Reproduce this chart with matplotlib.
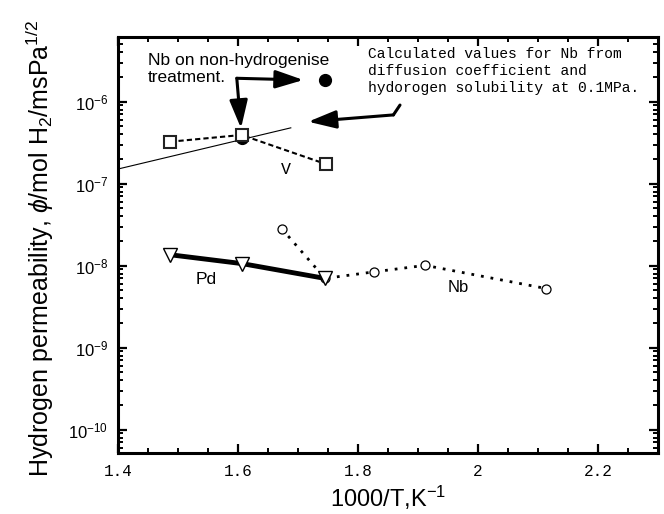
import matplotlib
matplotlib.use("Agg")
import matplotlib.pyplot as plt
from matplotlib.ticker import MultipleLocator, LogLocator, NullFormatter, FixedLocator

plt.rcParams['font.family'] = ['Liberation Sans', 'DejaVu Sans']
plt.rcParams['mathtext.fontset'] = 'custom'
plt.rcParams['mathtext.rm'] = 'Liberation Sans'
plt.rcParams['mathtext.it'] = 'Liberation Sans:italic'
plt.rcParams['mathtext.bf'] = 'Liberation Sans:bold'

# ---- data ----
v_x = [1.487, 1.606, 1.746]
v_y = [3.25e-7, 3.93e-7, 1.74e-7]

pd_x = [1.487, 1.607, 1.745]
pd_y = [1.36e-8, 1.06e-8, 7.0e-9]

nb_x = [1.673, 1.745, 1.826, 1.912, 2.114]
nb_y = [2.82e-8, 7.0e-9, 8.4e-9, 1.01e-8, 5.26e-9]

nb_untreated_x = [1.606, 1.745]
nb_untreated_y = [3.58e-7, 1.84e-6]

calc_x = [1.40, 1.688]
calc_y = [1.51e-7, 4.8e-7]

xticks = [1.4, 1.6, 1.8, 2.0, 2.2]
xticklabels = ['1.4', '1.6', '1.8', '2', '2.2']
yticks = [1e-10, 1e-9, 1e-8, 1e-7, 1e-6]
yticklabels = ['$10^{-10}$', '$10^{-9}$', '$10^{-8}$', '$10^{-7}$', '$10^{-6}$']

# annotation arrow anchor points (data coords)
arrow_corner = (1.598, 1.93e-6)
arrow_tip_right = (1.709, 1.84e-6)
arrow_tip_down = (1.605, 4.74e-7)
calc_hook_start = (1.870, 9.1e-7)
calc_hook_corner = (1.859, 6.9e-7)
calc_tip = (1.717, 5.7e-7)

fig = plt.figure(figsize=(6.64, 5.14), dpi=100)
ax = fig.add_axes([118/664, 1-453/514, 540/664, (453-37.3)/514])
ax.set_yscale('log')
ax.set_xlim(1.4, 2.3)
ax.set_ylim(5.2e-11, 6.1e-6)

# calculated thin line
ax.plot(calc_x, calc_y, color='black', lw=0.8, zorder=2)
# filled circles (Nb untreated)
ax.plot(nb_untreated_x, nb_untreated_y, linestyle='none', marker='o', ms=8.5,
        color='black', zorder=3)
# V dashed
ax.plot(v_x, v_y, color='black', lw=1.5, linestyle=(0, (2.5, 1.5)),
        marker='s', ms=8, mfc='white', mec='#222222', mew=1.5, zorder=4)
# Nb dotted
ax.plot(nb_x, nb_y, color='black', lw=2.0, linestyle=(0, (1, 2.5)),
        marker='o', ms=6.5, mfc='white', mec='black', mew=0.9, zorder=4)
# Pd thick
ax.plot(pd_x, pd_y, color='black', lw=3.5, solid_capstyle='butt',
        marker='v', ms=10, mfc='white', mec='black', mew=1.0, zorder=5)

# arrows
akw = dict(arrowstyle='-|>,head_length=1.7,head_width=0.55', color='black',
           lw=2.2, shrinkA=0, shrinkB=0, mutation_scale=10)
ax.annotate('', xy=arrow_tip_right, xytext=arrow_corner, arrowprops=akw)
ax.annotate('', xy=arrow_tip_down, xytext=arrow_corner, arrowprops=akw)
ax.annotate('', xy=calc_tip, xytext=calc_hook_corner, arrowprops=akw)
ax.annotate('', xy=calc_hook_corner, xytext=calc_hook_start,
            arrowprops=dict(arrowstyle='-', color='black', lw=2.2, shrinkA=0, shrinkB=0))

# texts
ax.text(0.055, 0.962, 'Nb on non-hydrogenise\ntreatment.', transform=ax.transAxes,
        ha='left', va='top', fontsize=12.5, linespacing=1.2)
ax.text(0.4624, 0.977, 'Calculated values for Nb from\ndiffusion coefficient and\nhydorogen solubility at 0.1MPa.',
        transform=ax.transAxes, ha='left', va='top', fontsize=10.5,
        family='Liberation Mono', linespacing=1.3)
ax.text(0.311, 0.6815, 'V', transform=ax.transAxes, ha='center', va='center',
        fontsize=12, family='Liberation Mono')
ax.text(0.163, 0.4174, 'Pd', transform=ax.transAxes, ha='center', va='center', fontsize=12.5)
ax.text(0.630, 0.3988, 'Nb', transform=ax.transAxes, ha='center', va='center', fontsize=12)

# axes styling
for s in ax.spines.values():
    s.set_linewidth(2.2)
ax.xaxis.set_major_locator(FixedLocator(xticks))
ax.set_xticklabels(xticklabels, family='Liberation Mono', fontsize=11.5)
ax.xaxis.set_minor_locator(MultipleLocator(0.05))
ax.yaxis.set_major_locator(FixedLocator(yticks))
ax.set_yticklabels(yticklabels, fontsize=12)
ax.yaxis.set_minor_locator(LogLocator(base=10, subs=range(2, 10), numticks=20))
ax.yaxis.set_minor_formatter(NullFormatter())
ax.tick_params(which='both', direction='in', top=True, right=True)
ax.tick_params(which='major', length=6.5, width=1.6)
ax.tick_params(which='minor', length=3.8, width=1.4)
ax.tick_params(axis='x', which='major', pad=8)
ax.tick_params(axis='y', which='major', pad=7)

ax.set_xlabel('1000/T,K$^{-1}$', fontsize=17)
ax.xaxis.set_label_coords(0.5, -0.075)
ax.set_ylabel(r'Hydrogen permeability, $\it{\phi}$/mol H$_2$/msPa$^{1/2}$', fontsize=18)
ax.yaxis.label.set_va('center')
ax.yaxis.set_label_coords(-0.144, 0.492)

fig.savefig('out.png', dpi=100)
